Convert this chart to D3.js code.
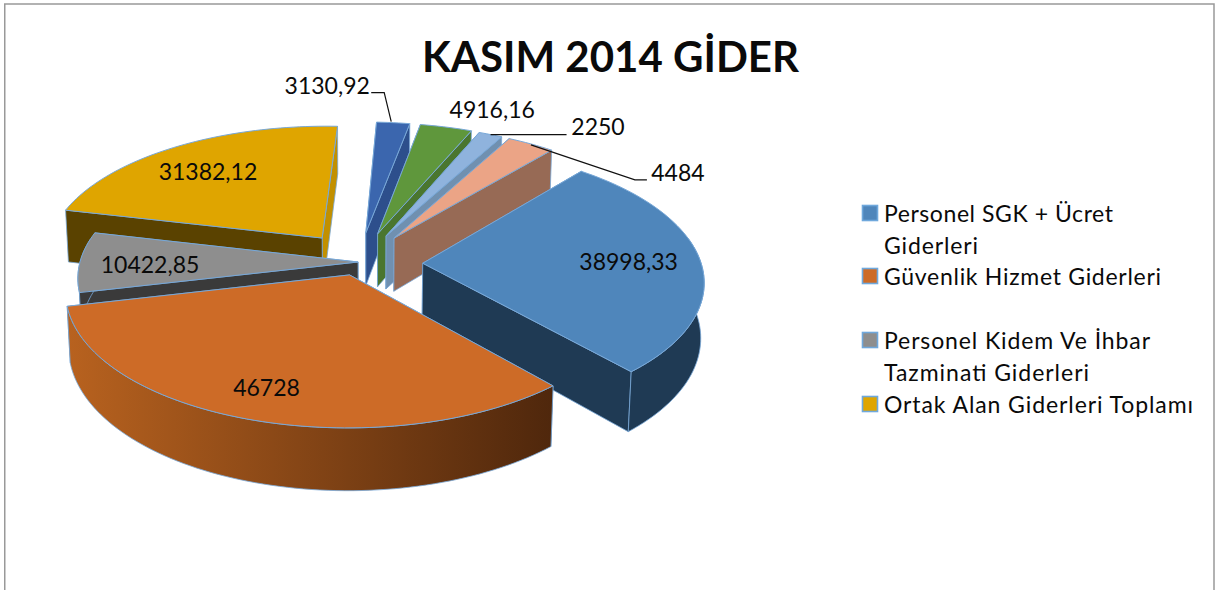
<!DOCTYPE html>
<html><head><meta charset="utf-8">
<script src="https://cdnjs.cloudflare.com/ajax/libs/d3/7.8.5/d3.min.js"></script>
<style>html,body{margin:0;padding:0;background:#fff}svg{display:block}text{font-family:Lato,"Open Sans",sans-serif;fill:#0a0a0a}</style>
</head><body><svg id="c" width="1215" height="590"></svg>
<script>
const title = "KASIM 2014 GİDER";
const values = [38998.33, 46728, 10422.85, 31382.12, 3130.92, 4916.16, 2250, 4484];
const legendLines = [
  ["Personel SGK + Ücret", "Giderleri"],
  ["Güvenlik Hizmet Giderleri"],
  ["Personel Kidem Ve İhbar", "Tazminati Giderleri"],
  ["Ortak Alan Giderleri Toplamı"]
];
const legendWidths = [[229, 94], [277], [266, 205], [309]];
const legendSlices = [0, 1, 2, 3];
const legendBaselines = [222, 285, 349, 413];
const topColors = ["#4f86bb", "#cd6b27", "#8e8e8e", "#dfa500", "#3b66ae", "#5f973c", "#8fb3dd", "#eba486"];
const startWall = ["#1f3a54", "#52290e", "#3a3a3a", "#5a4200", "#2d4f8c", "#4a762f", "#7090b0", "#976a55"];
const endWall   = ["#1f3a54", "#52290e", "#3a3a3a", "#c29000", "#2d4f8c", "#4a762f", "#7090b0", "#976a55"];
const rimLeft   = ["#1f3a54", "#b8621f", "#3a3a3a", "#5a4200", "#2d4f8c", "#4a762f", "#7090b0", "#976a55"];
const rimRight  = ["#1f3a54", "#4f270c", "#3a3a3a", "#5a4200", "#2d4f8c", "#4a762f", "#7090b0", "#976a55"];
const explode     = [.226, .166, .064, .196, .168, .168, .166, .17];
const explodeTurn = [19, -1, -74, -13, -3, 2, 5, 8];
const paintOrder  = [4, 5, 6, 7, 0, 3, 2, 1];
const labelNudge = [[-72,0],[16,-32],[70,3.5],[32,25],[-66,-37],[46,-17],[107.5,-7.5],[147,29]];
const leaders = {4:[[-2,-1],[-9,-30],[-22,-30]], 6:[[0,0],[76,0]], 7:[[0,1],[104,36],[116,36]]};

const cx = 363, cy = 254, f = 276, g = 129, p = .121, depth = 54, startDeg = 40;
const rad = d => d * Math.PI / 180;
const svg = d3.select("#c");
const defs = svg.append("defs");
const edge = "#78a8d8";

svg.append("path").attr("d", "M4.75,590V4H1214V590").attr("fill", "none").attr("stroke", "#999").attr("stroke-width", 1.5);
svg.append("text").attr("x", 610.5).attr("y", 72).attr("text-anchor", "middle")
  .attr("font-size", 42).attr("font-weight", 700).text(title);

const arcs = d3.pie().sort(null).startAngle(rad(startDeg)).endAngle(rad(startDeg + 360))(values);
const toTop = (X, Z) => { const w = 1 + p * Z; return [cx + f * X / w, cy - g * Z / w]; };
const toBase = (X, Z) => { const w = 1 + p * Z; return [cx + f * X / (w + .01), cy - g * Z / w + depth / w]; };
const line = d3.line();

const geo = arcs.map((a, i) => {
  const mid = (a.startAngle + a.endAngle) / 2, dir = mid + rad(explodeTurn[i]);
  const ax = explode[i] * Math.sin(dir), az = explode[i] * Math.cos(dir);
  const n = Math.max(6, Math.ceil((a.endAngle - a.startAngle) / rad(1.5)));
  const angles = d3.range(n + 1).map(k => a.startAngle + (a.endAngle - a.startAngle) * k / n);
  const at = t => [ax + Math.sin(t), az + Math.cos(t)];
  return {i, mid, ax, az, rim: angles.map(at), front: angles.filter(t => Math.cos(t) < .2).map(at)};
});

paintOrder.forEach(i => {
  const {ax, az, rim, front, mid} = geo[i];
  const gr = svg.append("g");
  const top = rim.map(d => toTop(...d)), base = rim.map(d => toBase(...d));
  const A = toTop(ax, az), B = toBase(ax, az);
  const startFace = () => gr.append("path").attr("d", line([A, top[0], base[0], B]) + "Z").attr("fill", startWall[i]).attr("stroke", edge).attr("stroke-width", .8);
  const endFace = () => gr.append("path").attr("d", line([A, top[top.length-1], base[base.length-1], B]) + "Z").attr("fill", endWall[i]).attr("stroke", edge).attr("stroke-width", .8);
  if (Math.sin(mid) < 0) { endFace(); startFace(); } else { startFace(); endFace(); }
  if (front.length > 1) {
    const gid = "rim" + i, ft = front.map(d => toTop(...d)), fb = front.map(d => toBase(...d));
    const xs = d3.extent(top, d => d[0]);
    const lg = defs.append("linearGradient").attr("id", gid).attr("gradientUnits", "userSpaceOnUse")
      .attr("x1", xs[0]).attr("x2", xs[1]).attr("y1", 0).attr("y2", 0);
    lg.append("stop").attr("offset", 0).attr("stop-color", rimLeft[i]);
    lg.append("stop").attr("offset", 1).attr("stop-color", rimRight[i]);
    gr.append("path").attr("d", line(ft.concat(fb.slice().reverse())) + "Z").attr("fill", `url(#${gid})`).attr("stroke", edge).attr("stroke-width", .8);
  }
  gr.append("path").attr("d", line([A].concat(top)) + "Z").attr("fill", topColors[i]).attr("stroke", edge).attr("stroke-width", 1);
});

geo.forEach(({i, mid, ax, az}) => {
  const [mx, my] = toTop(ax + Math.sin(mid), az + Math.cos(mid));
  if (leaders[i]) svg.append("path").attr("d", line(leaders[i].map(d => [mx + d[0], my + d[1]])))
    .attr("fill", "none").attr("stroke", "#111").attr("stroke-width", 1.2);
  svg.append("text").attr("x", mx + labelNudge[i][0]).attr("y", my + labelNudge[i][1] + 8)
    .attr("text-anchor", "middle").attr("font-size", 23)
    .text(String(values[i]).replace(".", ","));
});

legendLines.forEach((ls, k) => {
  const y = legendBaselines[k];
  svg.append("rect").attr("x", 862.5).attr("y", y - 16.5).attr("width", 15).attr("height", 15)
    .attr("fill", topColors[legendSlices[k]]).attr("stroke", "#6fa8dc").attr("stroke-width", 1.6);
  ls.forEach((t, j) => svg.append("text").attr("x", 884).attr("y", y + j * 32)
    .attr("font-size", 23).attr("textLength", legendWidths[k][j]).attr("lengthAdjust", "spacing").text(t));
});
</script></body></html>
